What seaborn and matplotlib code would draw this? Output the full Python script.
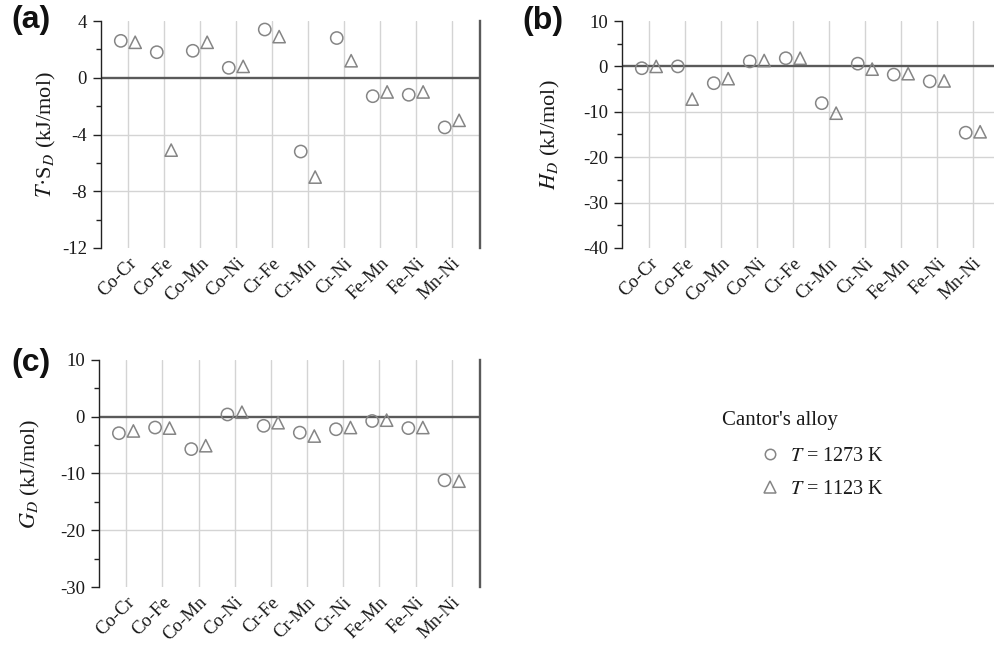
import numpy as np
import pandas as pd
import matplotlib
matplotlib.use("Agg")
import matplotlib.pyplot as plt
from matplotlib.lines import Line2D
from matplotlib.ticker import MultipleLocator
import seaborn as sns

# Binary pairs of the Cantor alloy
pairs = ["Co-Cr", "Co-Fe", "Co-Mn", "Co-Ni", "Cr-Fe",
         "Cr-Mn", "Cr-Ni", "Fe-Mn", "Fe-Ni", "Mn-Ni"]
temps = ["1273 K", "1123 K"]

# T*S_D (kJ/mol)
ts_1273 = [2.6, 1.8, 1.9, 0.7, 3.4, -5.2, 2.8, -1.3, -1.2, -3.5]
ts_1123 = [2.5, -5.1, 2.5, 0.8, 2.9, -7.0, 1.2, -1.0, -1.0, -3.0]
# H_D (kJ/mol)
h_1273 = [-0.4, 0.0, -3.7, 1.1, 1.8, -8.1, 0.6, -1.8, -3.3, -14.6]
h_1123 = [0.0, -7.2, -2.7, 1.3, 1.8, -10.3, -0.6, -1.6, -3.2, -14.4]
# G_D (kJ/mol)
g_1273 = [-2.9, -1.9, -5.7, 0.4, -1.6, -2.8, -2.2, -0.75, -2.0, -11.2]
g_1123 = [-2.5, -2.0, -5.1, 0.8, -1.05, -3.4, -1.9, -0.6, -1.9, -11.35]

sns.set_theme(style="white")
plt.rcParams["font.family"] = ["Liberation Serif", "DejaVu Serif"]
plt.rcParams["mathtext.fontset"] = "stix"

EDGE = "#858585"
GRID = "#d4d4d4"
DARK = "#5a5a5a"
TEXT = "#1a1a1a"

fig = plt.figure(figsize=(9.94, 6.46), dpi=100)
W, H = 994, 646


def long_table(v1273, v1123):
    rows = []
    for t, vals in zip(temps, [v1273, v1123]):
        for i, (p, v) in enumerate(zip(pairs, vals)):
            rows.append({"pair": p, "idx": i + 1, "T": t, "value": v})
    df = pd.DataFrame(rows)
    # dodge the two temperatures side by side around each pair
    df["pos"] = df["idx"] + df["T"].map({"1273 K": -0.2, "1123 K": 0.2})
    return df


def panel(rect, v1273, v1123, ylim, major, minor, ylabel, letter,
          letter_xy, label_x):
    ax = fig.add_axes(rect)
    df = long_table(v1273, v1123)
    sns.scatterplot(data=df, x="pos", y="value", style="T",
                    markers={"1273 K": "o", "1123 K": "^"},
                    style_order=temps, s=78, ax=ax, legend=False,
                    zorder=4)
    for coll in ax.collections:
        coll.set_facecolor("none")
        coll.set_edgecolor(EDGE)
        coll.set_linewidth(1.1)

    ax.set_xlim(0.25, 10.78)
    ax.set_ylim(*ylim)
    ax.set_xticks(np.arange(1, len(pairs) + 1))
    ax.set_xticklabels(pairs, rotation=45, ha="right",
                       rotation_mode="anchor", color=TEXT, fontsize=13.5)
    ax.tick_params(axis="x", length=0, pad=5)
    ax.yaxis.set_major_locator(MultipleLocator(major))
    ax.yaxis.set_minor_locator(MultipleLocator(minor))
    ax.tick_params(axis="y", which="major", length=6, width=1.0,
                   color="#222222", labelsize=13.5, labelcolor=TEXT,
                   pad=4, left=True, direction="out")
    ax.tick_params(axis="y", which="minor", length=3.5, width=1.0,
                   color="#222222", left=True, direction="out")
    ax.set_yticklabels([f"{int(v)}" for v in ax.get_yticks()])

    # vertical guides at each pair
    ax.xaxis.grid(True, color=GRID, linewidth=1.0, zorder=0)
    ax.yaxis.grid(False)
    for v in ax.get_yticks():
        if ylim[0] < v < ylim[1] and v != 0:
            ax.axhline(v, color=GRID, linewidth=1.0, zorder=1)
    ax.axhline(0, color=DARK, linewidth=1.7, zorder=2)

    ax.spines["top"].set_visible(False)
    ax.spines["bottom"].set_visible(False)
    ax.spines["left"].set_color("#222222")
    ax.spines["left"].set_linewidth(1.0)
    ax.spines["right"].set_color(DARK)
    ax.spines["right"].set_linewidth(1.7)

    ax.set_xlabel("")
    ax.set_ylabel(ylabel, fontsize=16, color=TEXT)
    ax.yaxis.set_label_coords(label_x, 0.5)
    ax.yaxis.label.set_va("center")

    fig.text(letter_xy[0], letter_xy[1], letter, fontsize=23,
             fontweight="bold", family="Liberation Sans", color="#111111",
             ha="left", va="center")
    return ax


def rect(left, top, right, bottom):
    return [left / W, 1 - bottom / H, (right - left) / W, (bottom - top) / H]


panel(rect(101, 21, 480, 248), ts_1273, ts_1123, (-12, 4), 4, 2,
      r"$T$·S$_D$ (kJ/mol)", "(a)", (11 / W, 1 - 20 / H), -0.145)
panel(rect(622, 21, 1001, 248), h_1273, h_1123, (-40, 10), 10, 5,
      r"$H_D$ (kJ/mol)", "(b)", (522 / W, 1 - 21 / H), -0.19)
panel(rect(99, 360, 480, 587), g_1273, g_1123, (-30, 10), 10, 5,
      r"$G_D$ (kJ/mol)", "(c)", (11 / W, 1 - 363 / H), -0.18)

# legend: title line, then indented marker entries
fig.text(722 / W, 1 - 420 / H, "Cantor's alloy", fontsize=15,
         color=TEXT, ha="left", va="center")
handles = [
    Line2D([], [], linestyle="none", marker="o", markersize=7.5,
           markerfacecolor="none", markeredgecolor=EDGE, markeredgewidth=1.1,
           label=r"$T$ = 1273 K"),
    Line2D([], [], linestyle="none", marker="^", markersize=8.5,
           markerfacecolor="none", markeredgecolor=EDGE, markeredgewidth=1.1,
           label=r"$T$ = 1123 K"),
]
leg = fig.legend(handles=handles, loc="upper left",
                 bbox_to_anchor=(760 / W, 1 - 447 / H),
                 frameon=False, fontsize=14.5, borderpad=0,
                 borderaxespad=0, handletextpad=0.5, labelspacing=0.68,
                 handlelength=1.0)
for txt in leg.get_texts():
    txt.set_color(TEXT)

fig.savefig("out.png", dpi=100)
